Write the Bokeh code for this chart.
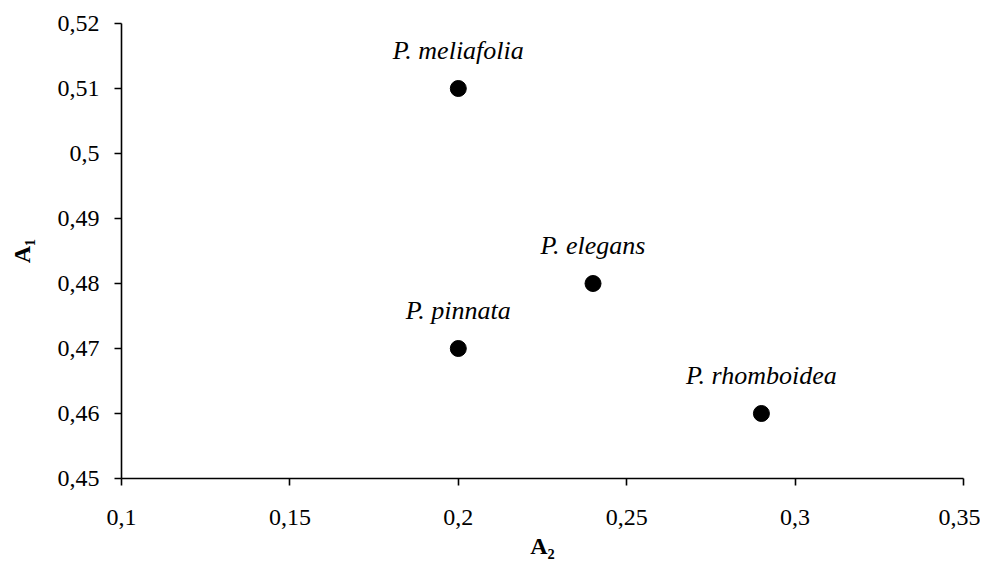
from bokeh.plotting import figure
from bokeh.models import ColumnDataSource, Range1d, FixedTicker, CustomJSTickFormatter, LabelSet
from bokeh.embed import file_html
from bokeh.resources import INLINE

# data
species = ["P. meliafolia", "P. elegans", "P. pinnata", "P. rhomboidea"]
a2_values = [0.20, 0.24, 0.20, 0.29]
a1_values = [0.51, 0.48, 0.47, 0.46]
x_ticks = [0.1, 0.15, 0.2, 0.25, 0.3, 0.35]
y_ticks = [0.45, 0.46, 0.47, 0.48, 0.49, 0.50, 0.51, 0.52]

src = ColumnDataSource(dict(x=a2_values, y=a1_values, name=species))

p = figure(width=980, height=561, output_backend="svg", toolbar_location=None,
           x_range=Range1d(0.1, 0.35), y_range=Range1d(0.45, 0.52),
           min_border_left=121, min_border_top=23, min_border_right=17, min_border_bottom=83)
p.outline_line_color = None
p.xgrid.visible = False
p.ygrid.visible = False
p.background_fill_color = "white"

fmt = CustomJSTickFormatter(code="return parseFloat(tick.toFixed(2)).toString().replace('.', ',');")
for ax, ticks in ((p.xaxis[0], x_ticks), (p.yaxis[0], y_ticks)):
    ax.ticker = FixedTicker(ticks=ticks)
    ax.formatter = fmt
    ax.axis_line_color = "black"
    ax.axis_line_width = 1.6
    ax.major_tick_line_color = "black"
    ax.major_tick_line_width = 1.6
    ax.major_tick_in = 0
    ax.major_tick_out = 7
    ax.minor_tick_line_color = None
    ax.major_label_text_font = "Liberation Serif"
    ax.major_label_text_font_size = "24px"
    ax.major_label_text_color = "black"
    ax.axis_label_text_font = "Liberation Serif"
    ax.axis_label_text_font_size = "24px"
    ax.axis_label_text_font_style = "bold"
    ax.axis_label_text_color = "black"

p.xaxis.axis_label = "A₂"
p.yaxis.axis_label = "A₁"
p.xaxis.major_label_standoff = 24
p.yaxis.major_label_standoff = 15
p.xaxis.axis_label_standoff = 5
p.yaxis.axis_label_standoff = 20

p.scatter("x", "y", source=src, size=16, color="black")

labels = LabelSet(x="x", y="y", text="name", source=src, y_offset=30,
                  text_align="center", text_baseline="alphabetic",
                  text_font="Liberation Serif", text_font_style="italic",
                  text_font_size="26px", text_color="black")
p.add_layout(labels)

open("out.html", "w").write(file_html(p, INLINE))
